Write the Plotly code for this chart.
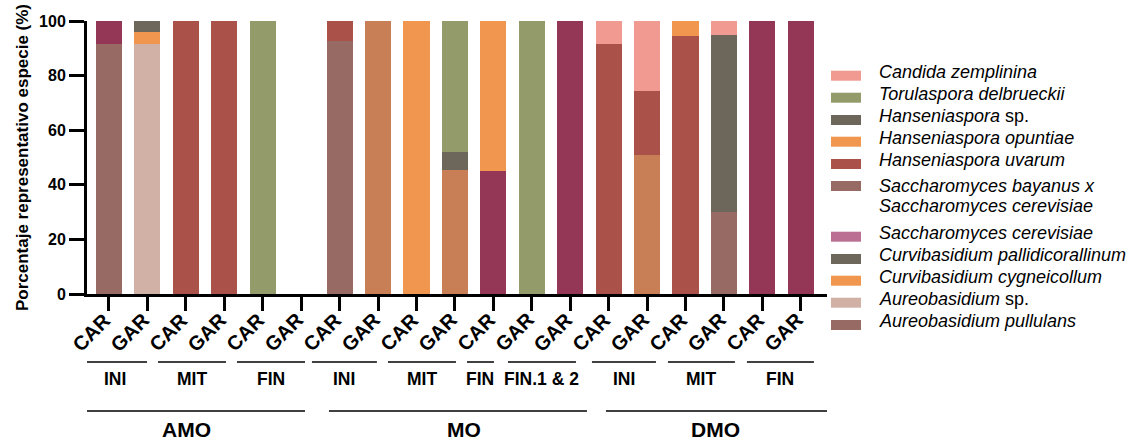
import plotly.graph_objects as go

# ---------------- data ----------------
samples = ["CAR", "GAR", "CAR", "GAR", "CAR", "GAR",
           "CAR", "GAR", "CAR", "GAR", "CAR", "GAR", "GAR",
           "CAR", "GAR", "CAR", "GAR", "CAR", "GAR"]
stage_labels = ["INI", "MIT", "FIN", "INI", "MIT", "FIN", "FIN.1 & 2", "INI", "MIT", "FIN"]
group_labels = ["AMO", "MO", "DMO"]

# stacked bottom -> top, percentages per sample
a_pullulans   = [91.6, 0, 0, 0, 0, 0, 92.7, 0, 0, 0, 0, 0, 0, 0, 0, 0, 30.0, 0, 0]
aureo_sp      = [0, 91.6, 0, 0, 0, 0, 0, 0, 0, 0, 0, 0, 0, 0, 0, 0, 0, 0, 0]
c_cygneicol   = [0, 4.4, 0, 0, 0, 0, 0, 0, 0, 0, 0, 0, 0, 0, 0, 0, 0, 0, 0]
c_pallidicor  = [0, 4.0, 0, 0, 0, 0, 0, 0, 0, 0, 0, 0, 0, 0, 0, 0, 0, 0, 0]
s_cerevisiae  = [8.4, 0, 0, 0, 0, 0, 0, 0, 0, 0, 45.1, 0, 100, 0, 0, 0, 0, 100, 100]
s_bay_x_cer   = [0, 0, 0, 0, 0, 0, 0, 100, 0, 45.4, 0, 0, 0, 0, 50.9, 0, 0, 0, 0]
h_uvarum      = [0, 0, 100, 100, 0, 0, 7.3, 0, 0, 0, 0, 0, 0, 91.6, 23.5, 94.5, 0, 0, 0]
h_opuntiae    = [0, 0, 0, 0, 0, 0, 0, 0, 100, 0, 54.9, 0, 0, 0, 0, 5.5, 0, 0, 0]
h_sp          = [0, 0, 0, 0, 0, 0, 0, 0, 0, 6.6, 0, 0, 0, 0, 0, 0, 64.9, 0, 0]
t_delbrueckii = [0, 0, 0, 0, 100, 0, 0, 0, 0, 48.0, 0, 100, 0, 0, 0, 0, 0, 0, 0]
c_zemplinina  = [0, 0, 0, 0, 0, 0, 0, 0, 0, 0, 0, 0, 0, 8.4, 25.6, 0, 5.1, 0, 0]

series_names = ["Aureobasidium pullulans", "Aureobasidium sp.", "Curvibasidium cygneicollum",
                "Curvibasidium pallidicorallinum", "Saccharomyces cerevisiae",
                "Saccharomyces bayanus x Saccharomyces cerevisiae", "Hanseniaspora uvarum",
                "Hanseniaspora opuntiae", "Hanseniaspora sp.", "Torulaspora delbrueckii",
                "Candida zemplinina"]
series_values = [a_pullulans, aureo_sp, c_cygneicol, c_pallidicor, s_cerevisiae, s_bay_x_cer,
                 h_uvarum, h_opuntiae, h_sp, t_delbrueckii, c_zemplinina]
bar_colors = ["#976A63", "#D1B0A6", "#F0964F", "#6D665A", "#943757", "#C97F55",
              "#AA5249", "#F0964F", "#6D665A", "#939B6A", "#F09A92"]

# legend (top -> bottom)
legend_text = ["<i>Candida zemplinina</i>", "<i>Torulaspora delbrueckii</i>",
               "<i>Hanseniaspora</i> sp.", "<i>Hanseniaspora opuntiae</i>",
               "<i>Hanseniaspora uvarum</i>",
               "<i>Saccharomyces bayanus x</i>|<i>Saccharomyces cerevisiae</i>",
               "<i>Saccharomyces cerevisiae</i>", "<i>Curvibasidium pallidicorallinum</i>",
               "<i>Curvibasidium cygneicollum</i>", "<i>Aureobasidium</i> sp.",
               "<i>Aureobasidium pullulans</i>"]
legend_colors = ["#F09A92", "#939B6A", "#6D665A", "#F0964F", "#AA5249", "#976A63",
                 "#BB6F93", "#6D665A", "#F0964F", "#D1B0A6", "#976A63"]

# ---------------- layout geometry (pixels) ----------------
W, H = 1128, 441
L, R, T, B = 87, 827, 21, 294
FONT = "Liberation Sans, Arial, Helvetica, sans-serif"

def pxx(p):
    return (p - L) / (R - L)

def pxy(p):
    return (B - p) / (B - T)

xs = list(range(len(samples)))

fig = go.Figure()
for name, vals, col in zip(series_names, series_values, bar_colors):
    fig.add_trace(go.Bar(x=xs, y=vals, name=name, marker_color=col,
                         marker_line_width=0, width=0.68, showlegend=False))

# stage / group spans in category units
stage_spans = [(-0.70, 0.99), (1.275, 3.044), (3.33, 5.10), (5.28, 6.97), (7.258, 9.027),
               (9.313, 10.016), (10.38, 12.149), (12.565, 14.23), (14.542, 16.285), (16.597, 18.34)]
group_spans = [(-0.70, 5.10), (5.723, 12.435), (12.929, 18.808)]
group_label_x = [2.016, 9.248, 15.791]

shapes = []
annotations = []

# rotated sample labels under each tick
for xi, lab in zip(xs, samples):
    annotations.append(dict(x=xi, y=pxy(331.5), xref="x", yref="paper", text=lab,
                            showarrow=False, textangle=-45, xanchor="center",
                            yanchor="middle", xshift=-17.5,
                            font=dict(family=FONT, size=20, color="black", weight="bold")))

for (a, b), lab in zip(stage_spans, stage_labels):
    shapes.append(dict(type="line", xref="x", yref="paper", x0=a, x1=b,
                       y0=pxy(362), y1=pxy(362), line=dict(color="black", width=1.5)))
    annotations.append(dict(x=(a + b) / 2, y=pxy(378.5), xref="x", yref="paper",
                            text=lab, showarrow=False, xanchor="center", yanchor="middle",
                            font=dict(family=FONT, size=17.5, color="black", weight="bold")))
for (a, b), lab, lx in zip(group_spans, group_labels, group_label_x):
    shapes.append(dict(type="line", xref="x", yref="paper", x0=a, x1=b,
                       y0=pxy(411), y1=pxy(411), line=dict(color="black", width=1.5)))
    annotations.append(dict(x=lx, y=pxy(429), xref="x", yref="paper",
                            text=lab, showarrow=False, xanchor="center", yanchor="middle",
                            font=dict(family=FONT, size=21, color="black", weight="bold")))

# manual legend
sw_centers = [75.7, 97.7, 120, 141.7, 164, 186, 236.7, 259, 280.7, 302.7, 325]
for txt, col, c in zip(legend_text, legend_colors, sw_centers):
    shapes.append(dict(type="rect", xref="paper", yref="paper",
                       x0=pxx(831), x1=pxx(861), y0=pxy(c + 5), y1=pxy(c - 5),
                       fillcolor=col, line=dict(width=0)))
    parts = txt.split("|")
    if len(parts) == 1:
        ys = [c - 3.6]
    else:
        ys = [c - 0.4, c + 19.6]
    for part, yy in zip(parts, ys):
        annotations.append(dict(x=pxx(877), y=pxy(yy), xref="paper", yref="paper",
                                text=part, showarrow=False, xanchor="left", yanchor="middle",
                                font=dict(family=FONT, size=18, color="black")))

fig.update_layout(
    width=W, height=H,
    margin=dict(l=L, r=W - R, t=T, b=H - B, pad=0),
    paper_bgcolor="white", plot_bgcolor="white",
    barmode="stack", bargap=0,
    showlegend=False,
    font=dict(family=FONT, color="black"),
    shapes=shapes, annotations=annotations,
)
fig.update_xaxes(
    range=[-0.572, 18.68], tickmode="array", tickvals=xs, showticklabels=False,
    showline=True, linewidth=3, linecolor="black", ticks="outside", ticklen=14,
    tickwidth=3, tickcolor="black", showgrid=False, zeroline=False,
)
fig.update_yaxes(
    range=[0, 100], tickvals=[0, 20, 40, 60, 80, 100],
    tickfont=dict(family=FONT, size=16, color="black", weight="bold"),
    showline=True, linewidth=3, linecolor="black", ticks="outside", ticklen=15,
    tickwidth=3, tickcolor="black", showgrid=False, zeroline=False,
    title=dict(text="Porcentaje representativo especie (%)", standoff=7,
               font=dict(family=FONT, size=17, color="black", weight="bold")),
)

fig.write_html("out.html")
